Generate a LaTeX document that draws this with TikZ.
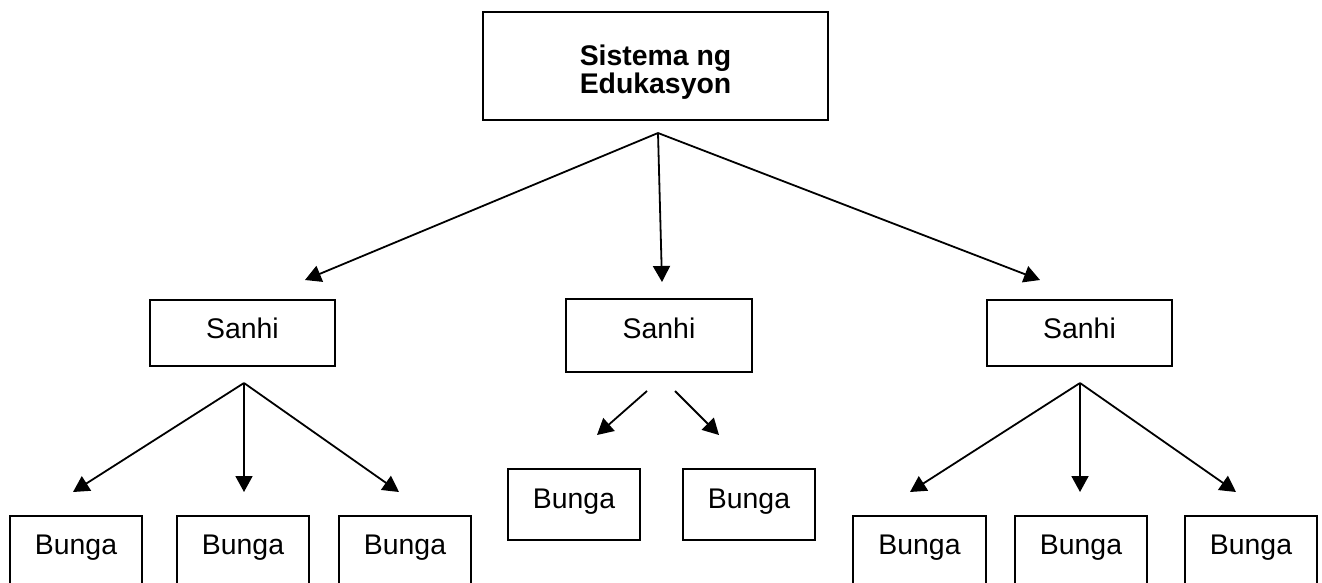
\documentclass[tikz,border=0pt]{standalone}
\usepackage{fontspec}
\setmainfont{Liberation Sans}
\usetikzlibrary{arrows.meta}
\begin{document}
\begin{tikzpicture}[x=1pt,y=-1pt,
  every node/.style={font=\fontsize{28.4}{28.3}\selectfont},
  tbox/.style={draw, line width=1.8pt, inner sep=0pt, text height=20pt, text depth=#1},
  bunga/.style={tbox=15pt, minimum width=132pt, minimum height=71pt},
  sanhi/.style={tbox=10pt, minimum width=185pt, minimum height=66pt},
  arr/.style={line width=1.8pt, -{Triangle[length=16pt,width=17pt]}}
]
\clip (0,0) rectangle (1322,582);
\fill[white] (0,0) rectangle (1322,582);
% title
\node[draw, line width=1.8pt, inner sep=0pt, align=center, minimum width=345pt, minimum height=108pt,
      text height=60pt, text depth=5.4pt, font=\fontsize{28.4}{28.3}\selectfont\bfseries] (top) at (655.5,66) {Sistema ng\\Edukasyon};
% sanhi
\node[sanhi] (s1) at (242.5,333) {Sanhi};
\node[tbox=15pt, minimum width=186pt, minimum height=73pt] (s2) at (659,335.5) {Sanhi};
\node[sanhi] (s3) at (1079.5,333) {Sanhi};
% bunga
\node[bunga] (b11) at (76,551.5) {Bunga};
\node[bunga] (b12) at (243,551.5) {Bunga};
\node[bunga] (b13) at (405,551.5) {Bunga};
\node[tbox=13pt, minimum width=132pt, minimum height=71pt] (b21) at (574,504.5) {Bunga};
\node[tbox=13pt, minimum width=132pt, minimum height=71pt] (b22) at (749,504.5) {Bunga};
\node[bunga, minimum width=133pt] (b31) at (919.5,551.5) {Bunga};
\node[bunga] (b32) at (1081,551.5) {Bunga};
\node[bunga] (b33) at (1251,551.5) {Bunga};
% connector points
\coordinate (t0) at (658,133);
\coordinate (t1) at (305,280);
\coordinate (t2) at (662,282);
\coordinate (t3) at (1040,280);
\coordinate (a1) at (244,383);
\coordinate (a11) at (73,492);
\coordinate (a12) at (244,492);
\coordinate (a13) at (399,492);
\coordinate (m1s) at (647,391);
\coordinate (m1e) at (597,435);
\coordinate (m2s) at (675,391);
\coordinate (m2e) at (719,435);
\coordinate (a3) at (1080,383);
\coordinate (a31) at (910,492);
\coordinate (a32) at (1080,492);
\coordinate (a33) at (1236,492);
% arrows
\draw[arr] (t0) -- (t1);
\draw[arr] (t0) -- (t2);
\draw[arr] (t0) -- (t3);
\draw[arr] (a1) -- (a11);
\draw[arr] (a1) -- (a12);
\draw[arr] (a1) -- (a13);
\draw[arr] (m1s) -- (m1e);
\draw[arr] (m2s) -- (m2e);
\draw[arr] (a3) -- (a31);
\draw[arr] (a3) -- (a32);
\draw[arr] (a3) -- (a33);
\end{tikzpicture}
\end{document}
